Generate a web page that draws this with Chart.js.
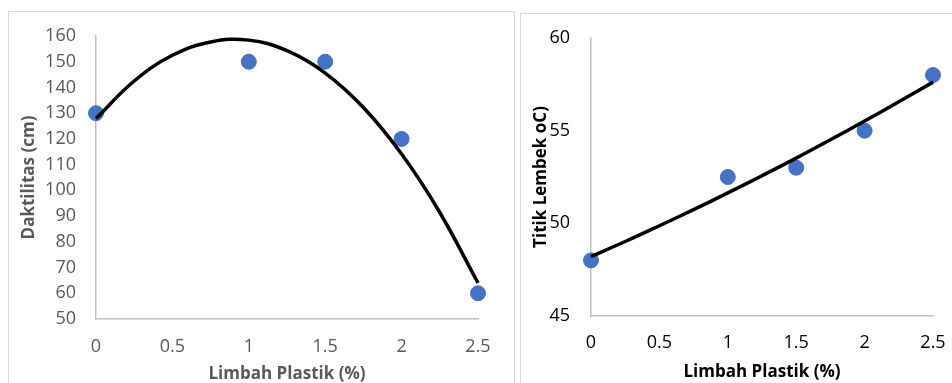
<!DOCTYPE html>
<html>
<head>
<meta charset="utf-8">
<script src="https://cdn.jsdelivr.net/npm/chart.js@4/dist/chart.umd.min.js"></script>
<style>
  html, body { margin: 0; padding: 0; background: #fff; overflow: hidden; width: 952px; height: 383px; }
  .frame { position: absolute; border: 1px solid #d9d9d9; background: #fff; }
  #boxA { left: 8px; top: 11px; width: 505px; height: 380px; }
  #boxB { left: 520px; top: 13px; width: 440px; height: 380px; }
  canvas { position: absolute; left: 0; top: 0; }
</style>
</head>
<body>
<div class="frame" id="boxA"><canvas id="chartA" width="505" height="372"></canvas></div>
<div class="frame" id="boxB"><canvas id="chartB" width="432" height="370"></canvas></div>
<script>
// Limbah plastik (%) on the x axis, shared by both charts
const plastik = [0, 1, 1.5, 2, 2.5];

// left chart: daktilitas (cm)
const daktilitas = [130, 150, 150, 120, 60];
// right chart: titik lembek (oC)
const titikLembek = [48, 52.5, 53, 55, 58];

// trendlines at every 0.25 %
const trendX = [0, 0.25, 0.5, 0.75, 1, 1.25, 1.5, 1.75, 2, 2.25, 2.5];
const trendDaktilitas = [127.9, 142.5, 152.5, 157.7, 158.4, 154.3, 145.6, 132.2, 114.1, 91.4, 64.0];
const trendTitik = [48.21, 49.02, 49.87, 50.74, 51.64, 52.57, 53.52, 54.51, 55.52, 56.56, 57.62];

const xTicks = [0, 0.5, 1, 1.5, 2, 2.5];

function pairs(xs, ys) {
    return xs.map((x, i) => ({x: x, y: ys[i]}));
}

// drop the label overflow padding so layout.padding alone places the plot area
function noPad(s) {
    s.paddingTop = 0;
    s.paddingBottom = 0;
    s.paddingLeft = 0;
    s.paddingRight = 0;
}

function makeChart(id, points, trend, yMin, yMax, yStep, yTitle, textColor, dims) {

    return new Chart(document.getElementById(id), {

        type: "scatter",

        data: {
            datasets: [
                {
                    data: pairs(trendX, trend),
                    showLine: true,
                    borderColor: "#000",
                    borderWidth: 3.5,
                    pointRadius: 0,
                    tension: 0.4,
                    clip: false
                },
                {
                    data: pairs(plastik, points),
                    backgroundColor: "#4472C4",
                    borderColor: "#4472C4",
                    pointRadius: 7.5,
                    clip: false
                }
            ]
        },

        options: {
            responsive: false,
            animation: false,
            layout: {
                autoPadding: false,
                padding: {top: dims.top, right: dims.right, left: 0, bottom: 0}
            },
            plugins: {
                legend: {display: false},
                tooltip: {enabled: false}
            },
            scales: {
                x: {
                    type: "linear",
                    min: 0,
                    max: 2.5,
                    afterBuildTicks: s => { s.ticks = xTicks.map(v => ({value: v})); },
                    afterFit: s => { s.height = dims.xHeight; noPad(s); },
                    grid: {drawOnChartArea: false, drawTicks: false},
                    border: {display: true, color: "#bfbfbf", width: 1.5},
                    ticks: {
                        color: textColor,
                        padding: dims.xPad,
                        font: {family: "Open Sans", size: 18},
                        callback: v => String(v)
                    },
                    title: {
                        display: true,
                        text: "Limbah Plastik (%)",
                        color: textColor,
                        padding: {top: 0, bottom: dims.xTitlePad},
                        font: {family: "Open Sans", size: 17, weight: "bold"}
                    }
                },
                y: {
                    min: yMin,
                    max: yMax,
                    afterFit: s => { s.width = dims.yWidth; noPad(s); },
                    grid: {drawOnChartArea: false, drawTicks: false},
                    border: {display: true, color: "#bfbfbf", width: 1.5},
                    ticks: {
                        stepSize: yStep,
                        color: textColor,
                        padding: dims.yPad,
                        font: {family: "Open Sans", size: 18}
                    },
                    title: {
                        display: true,
                        text: yTitle,
                        color: textColor,
                        padding: {top: dims.yTitlePad, bottom: 0},
                        font: {family: "Open Sans", size: 17, weight: "bold"}
                    }
                }
            }
        }
    });
}

makeChart("chartA", daktilitas, trendDaktilitas, 50, 160, 10, "Daktilitas (cm)", "#595959",
    {top: 24, right: 36, xHeight: 65, yWidth: 87, xPad: 17, yPad: 20, xTitlePad: 0, yTitlePad: 10});

makeChart("chartB", titikLembek, trendTitik, 45, 60, 5, "Titik Lembek oC)", "#000000",
    {top: 24, right: 20, xHeight: 68, yWidth: 70, xPad: 16, yPad: 21, xTitlePad: 2, yTitlePad: 10});
</script>
</body>
</html>
